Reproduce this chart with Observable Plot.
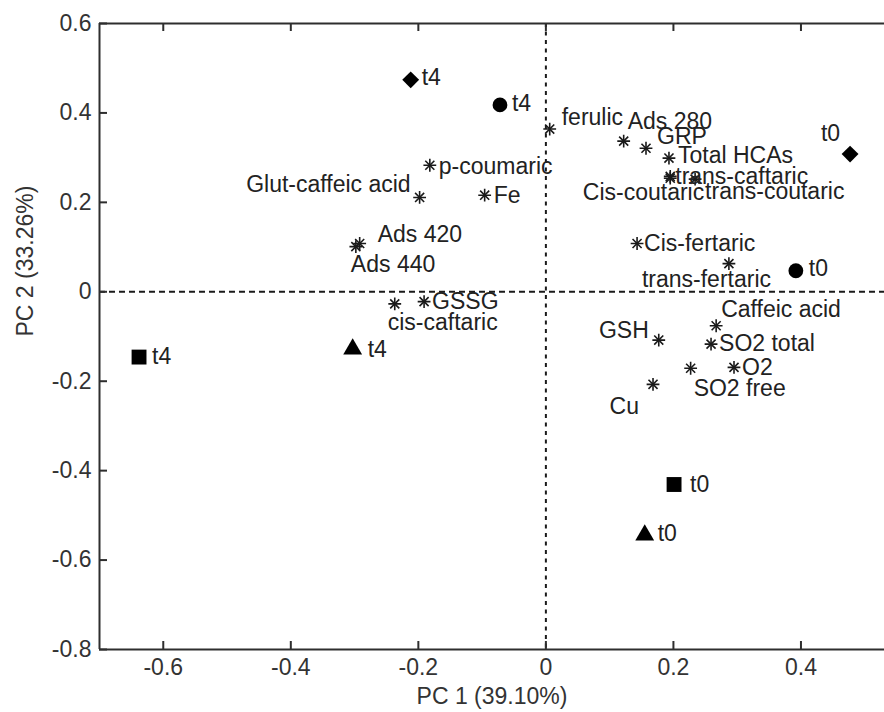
<!DOCTYPE html>
<html>
<head>
<meta charset="utf-8">
<script src="https://cdn.jsdelivr.net/npm/d3@7"></script>
<script src="https://cdn.jsdelivr.net/npm/@observablehq/plot@0.6"></script>
<style>
  html, body { margin: 0; padding: 0; background: #fff; }
  #chart { width: 884px; height: 712px; }
</style>
</head>
<body>
<div id="chart"></div>
<script>
// ---- Data ----
const varNames = ["ferulic", "Ads 280", "GRP", "Total HCAs", "trans-caftaric", "Cis-coutaric",
  "trans-coutaric", "Cis-fertaric", "trans-fertaric", "Glut-caffeic acid", "p-coumaric", "Fe",
  "Ads 420", "Ads 440", "GSSG", "cis-caftaric", "Caffeic acid", "SO2 total", "O2", "GSH",
  "SO2 free", "Cu"];
const varPC1 = [0.006, 0.122, 0.157, 0.193, 0.195, 0.195, 0.234, 0.143, 0.287, -0.198, -0.182, -0.096,
  -0.292, -0.298, -0.191, -0.237, 0.267, 0.259, 0.295, 0.177, 0.227, 0.168];
const varPC2 = [0.364, 0.337, 0.321, 0.299, 0.258, 0.254, 0.252, 0.108, 0.063, 0.211, 0.283, 0.216,
  0.108, 0.101, -0.022, -0.027, -0.076, -0.117, -0.169, -0.108, -0.171, -0.207];

const sampleLabels = ["t4", "t4", "t0", "t0", "t4", "t4", "t0", "t0"];
const sampleSeries = ["diamond", "circle", "diamond", "circle", "square", "triangle", "square", "triangle"];
const samplePC1 = [-0.212, -0.072, 0.477, 0.392, -0.638, -0.303, 0.201, 0.155];
const samplePC2 = [0.474, 0.418, 0.308, 0.047, -0.146, -0.128, -0.431, -0.544];

const xTicks = [-0.6, -0.4, -0.2, 0, 0.2, 0.4];
const yTicks = [-0.8, -0.6, -0.4, -0.2, 0, 0.2, 0.4, 0.6];
const xLabel = "PC 1 (39.10%)";
const yLabel = "PC 2 (33.26%)";

// ---- Style (label placement: anchor, dx, dy in px) ----
const varLabelPlacement = [
  ["start", 12, -11], ["start", 4, -19], ["start", 11, -12], ["start", 9, -2], ["start", 5, 0],
  ["end", 34, 14], ["start", 10, 13], ["start", 7, 0], ["start", -87, 16], ["end", -9, -13],
  ["start", 9, 1], ["start", 9, 0], ["start", 18, -9], ["start", -5, 18], ["start", 8, 0],
  ["start", -7, 19], ["start", 5, -16], ["start", 8, 0], ["start", 8, 0], ["end", -10, -9],
  ["start", 3, 20], ["end", -14, 22]
];
const sampleLabelPlacement = [
  ["start", 11, -2], ["start", 12, -1], ["end", -10, -20], ["start", 13, -2],
  ["start", 13, 0], ["start", 15, 1], ["start", 16, 0], ["start", 13, -1]
];
const seriesStyle = {
  diamond: {symbol: "diamond2", r: 7.6},
  circle: {symbol: "circle", r: 7.4},
  square: {symbol: "square", r: 8.4},
  triangle: {symbol: "triangle", r: 7}
};

const W = 884, H = 712, mL = 99, mR = 0, mT = 23, mB = 63;
const innerW = W - mL - mR, innerH = H - mT - mB;
const xDomain = [-0.7, 0.531], yDomain = [-0.8, 0.6];
const FONT = 23, INK = "#1a1a1a", AX = "#2e2e2e";

const vars = varNames.map((n, i) => ({name: n, x: varPC1[i], y: varPC2[i], p: varLabelPlacement[i]}));
const samples = sampleLabels.map((l, i) => ({label: l, series: sampleSeries[i], x: samplePC1[i], y: samplePC2[i], p: sampleLabelPlacement[i]}));

const fmt = d => (Math.abs(d) < 1e-9 ? "0" : String(d));

const marks = [
  // zero reference lines
  Plot.ruleX([0], {stroke: INK, strokeWidth: 2, strokeDasharray: "4,4.5"}),
  Plot.ruleY([0], {stroke: INK, strokeWidth: 2, strokeDasharray: "6,4"}),
  // box
  Plot.ruleY([yDomain[0], yDomain[1]], {stroke: AX, strokeWidth: 2}),
  Plot.ruleX([xDomain[0]], {stroke: AX, strokeWidth: 2}),
  // inward ticks
  Plot.tickX(xTicks, {x: d => d, stroke: AX, strokeWidth: 2, insetTop: innerH - 8}),
  Plot.tickX(xTicks, {x: d => d, stroke: AX, strokeWidth: 2, insetBottom: innerH - 8}),
  Plot.tickY(yTicks, {y: d => d, stroke: AX, strokeWidth: 2, insetRight: innerW - 8}),
  // tick labels
  Plot.axisX({anchor: "bottom", ticks: xTicks, tickSize: 0, tickPadding: 9, tickFormat: fmt, fontSize: FONT, fill: "#333", label: null}),
  Plot.axisY({anchor: "left", ticks: yTicks, tickSize: 0, tickPadding: 8, tickFormat: fmt, fontSize: FONT, fill: "#333", label: null}),
  // axis titles
  Plot.text([xLabel], {frameAnchor: "bottom", dy: 54, fontSize: FONT, fill: "#333"}),
  Plot.text([yLabel], {frameAnchor: "left", dx: -74, rotate: -90, fontSize: FONT, fill: "#333"}),
  // variable asterisks (MATLAB-style '*': plus + times)
  Plot.dot(vars, {x: "x", y: "y", symbol: "plus", r: 4.2, stroke: INK, strokeWidth: 1.6}),
  Plot.dot(vars, {x: "x", y: "y", symbol: "times", r: 4.2, stroke: INK, strokeWidth: 1.6})
];

// sample markers by series
for (const [key, st] of Object.entries(seriesStyle)) {
  marks.push(Plot.dot(samples.filter(s => s.series === key), {x: "x", y: "y", symbol: st.symbol, r: st.r, fill: "#000", stroke: "none"}));
}

// variable labels
vars.forEach(v => {
  marks.push(Plot.text([v], {x: "x", y: "y", text: "name", textAnchor: v.p[0], dx: v.p[1], dy: v.p[2], fontSize: FONT, fill: "#222"}));
});
// sample labels
samples.forEach(s => {
  marks.push(Plot.text([s], {x: "x", y: "y", text: "label", textAnchor: s.p[0], dx: s.p[1], dy: s.p[2], fontSize: FONT, fill: "#222"}));
});

const chart = Plot.plot({
  width: W, height: H,
  marginLeft: mL, marginRight: mR, marginTop: mT, marginBottom: mB,
  x: {domain: xDomain},
  y: {domain: yDomain},
  style: {fontFamily: "'Liberation Sans', Arial, sans-serif", background: "#fff", overflow: "visible"},
  marks
});
document.getElementById("chart").appendChild(chart);
</script>
</body>
</html>
